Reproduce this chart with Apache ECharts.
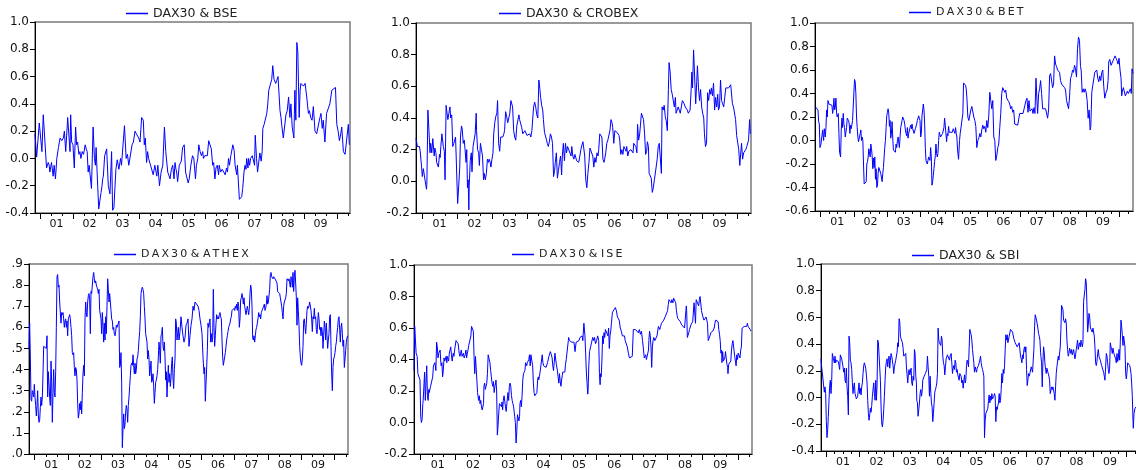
<!DOCTYPE html>
<html><head><meta charset="utf-8">
<script src="https://cdn.jsdelivr.net/npm/echarts@6/dist/echarts.min.js"></script>
<style>html,body{margin:0;padding:0;background:#fff}#c{width:1136px;height:470px}</style>
</head><body><div id="c"></div>
<script>
const tickLabels = ['01','02','03','04','05','06','07','08','09'];
const yearTicks = [2001,2002,2003,2004,2005,2006,2007,2008,2009,2010];

const bse = [[2000.85,0.18],[2000.90,0.01],[2000.93,0.02],[2000.98,0.26],[2001.02,0.25],[2001.06,0.05],[2001.10,0.32],[2001.14,0.33],[2001.20,-0.07],[2001.25,-0.03],[2001.28,-0.05],[2001.30,-0.10],[2001.33,-0.10],[2001.35,-0.03],[2001.40,-0.13],[2001.43,-0.05],[2001.47,-0.15],[2001.51,0.00],[2001.56,0.08],[2001.61,0.15],[2001.66,0.13],[2001.71,0.15],[2001.74,0.20],[2001.78,0.05],[2001.81,0.05],[2001.84,0.30],[2001.88,0.30],[2001.91,0.05],[2001.93,0.32],[2001.96,0.12],[2002.00,0.10],[2002.04,-0.07],[2002.08,0.23],[2002.11,0.10],[2002.14,0.12],[2002.18,0.03],[2002.21,0.05],[2002.24,0.00],[2002.28,0.05],[2002.32,0.03],[2002.37,0.10],[2002.40,0.07],[2002.43,0.05],[2002.46,-0.10],[2002.49,-0.05],[2002.52,-0.05],[2002.56,-0.22],[2002.61,0.23],[2002.65,0.00],[2002.68,-0.05],[2002.70,0.08],[2002.74,-0.15],[2002.78,-0.37],[2002.82,-0.36],[2002.85,-0.25],[2002.88,-0.20],[2002.90,-0.15],[2002.92,-0.13],[2002.96,0.02],[2002.99,0.02],[2003.02,0.07],[2003.07,-0.20],[2003.12,-0.26],[2003.17,0.05],[2003.20,-0.38],[2003.24,-0.36],[2003.27,-0.36],[2003.30,-0.08],[2003.32,-0.08],[2003.34,-0.01],[2003.37,-0.05],[2003.39,-0.08],[2003.44,0.00],[2003.47,-0.05],[2003.50,-0.06],[2003.56,0.24],[2003.61,0.00],[2003.65,0.03],[2003.69,-0.05],[2003.73,-0.04],[2003.79,0.10],[2003.83,0.12],[2003.88,0.20],[2003.92,0.18],[2003.95,0.17],[2003.99,0.15],[2004.03,0.12],[2004.08,0.30],[2004.13,0.28],[2004.16,0.10],[2004.19,0.15],[2004.23,-0.03],[2004.26,0.05],[2004.29,0.00],[2004.35,-0.05],[2004.39,-0.05],[2004.43,-0.12],[2004.48,-0.05],[2004.54,-0.13],[2004.57,-0.05],[2004.62,-0.20],[2004.67,-0.10],[2004.72,-0.05],[2004.77,0.23],[2004.81,0.05],[2004.87,-0.10],[2004.92,-0.10],[2004.94,-0.15],[2004.98,-0.08],[2005.02,-0.05],[2005.06,-0.15],[2005.09,-0.03],[2005.12,-0.08],[2005.14,-0.10],[2005.17,-0.17],[2005.22,-0.05],[2005.24,-0.04],[2005.28,-0.02],[2005.32,0.08],[2005.37,0.10],[2005.41,-0.10],[2005.44,-0.10],[2005.49,-0.18],[2005.52,-0.15],[2005.57,-0.05],[2005.62,0.02],[2005.66,0.00],[2005.71,-0.15],[2005.74,-0.05],[2005.78,0.00],[2005.81,0.10],[2005.85,0.05],[2005.89,0.02],[2005.93,0.05],[2005.95,0.00],[2005.99,0.02],[2006.03,0.03],[2006.07,0.02],[2006.11,0.13],[2006.15,0.13],[2006.19,0.07],[2006.23,-0.05],[2006.26,-0.03],[2006.30,-0.15],[2006.33,-0.07],[2006.35,-0.08],[2006.37,-0.05],[2006.41,-0.12],[2006.43,-0.05],[2006.47,-0.10],[2006.52,-0.08],[2006.57,-0.08],[2006.61,-0.12],[2006.65,-0.07],[2006.68,-0.10],[2006.71,0.00],[2006.74,-0.05],[2006.78,0.02],[2006.82,0.07],[2006.84,0.10],[2006.88,0.06],[2006.91,-0.05],[2006.96,-0.12],[2006.98,-0.05],[2007.01,-0.05],[2007.04,-0.30],[2007.11,-0.28],[2007.14,-0.22],[2007.18,-0.10],[2007.21,-0.05],[2007.24,-0.08],[2007.26,0.00],[2007.30,-0.07],[2007.32,0.00],[2007.35,-0.05],[2007.38,0.00],[2007.43,0.02],[2007.46,0.03],[2007.50,-0.05],[2007.52,0.17],[2007.56,0.00],[2007.59,-0.10],[2007.63,-0.02],[2007.66,0.04],[2007.70,-0.02],[2007.73,0.05],[2007.75,0.22],[2007.79,0.25],[2007.82,0.25],[2007.87,0.33],[2007.90,0.40],[2007.93,0.50],[2007.97,0.50],[2008.02,0.58],[2008.05,0.68],[2008.09,0.58],[2008.14,0.55],[2008.17,0.57],[2008.21,0.60],[2008.27,0.35],[2008.30,0.30],[2008.32,0.25],[2008.37,0.15],[2008.41,0.15],[2008.45,0.32],[2008.49,0.35],[2008.53,0.45],[2008.57,0.30],[2008.60,0.40],[2008.64,0.23],[2008.69,0.15],[2008.72,0.50],[2008.75,0.28],[2008.78,0.85],[2008.81,0.78],[2008.85,0.30],[2008.88,0.50],[2008.90,0.55],[2008.98,0.53],[2009.03,0.55],[2009.08,0.45],[2009.13,0.33],[2009.16,0.35],[2009.20,0.30],[2009.24,0.28],[2009.28,0.38],[2009.33,0.20],[2009.38,0.18],[2009.43,0.18],[2009.48,0.30],[2009.51,0.33],[2009.55,0.22],[2009.58,0.28],[2009.63,0.12],[2009.68,0.33],[2009.73,0.33],[2009.78,0.40],[2009.84,0.50],[2009.89,0.50],[2009.95,0.52],[2009.99,0.25],[2010.03,0.20],[2010.07,0.13],[2010.11,0.18],[2010.14,0.23],[2010.19,0.05],[2010.24,0.03],[2010.29,0.03],[2010.34,0.25],[2010.37,0.10]];

const crobex = [[2000.83,0.27],[2000.87,0.22],[2000.93,0.22],[2000.95,0.19],[2000.99,0.09],[2001.01,0.03],[2001.04,0.08],[2001.07,0.07],[2001.10,-0.01],[2001.13,-0.05],[2001.14,-0.02],[2001.17,0.45],[2001.20,0.32],[2001.23,0.18],[2001.25,0.24],[2001.28,0.18],[2001.31,0.27],[2001.33,0.26],[2001.35,0.16],[2001.37,0.21],[2001.40,0.18],[2001.42,0.12],[2001.45,0.12],[2001.47,0.09],[2001.50,0.17],[2001.52,0.15],[2001.54,0.22],[2001.57,0.30],[2001.59,0.31],[2001.61,0.22],[2001.64,0.19],[2001.66,0.01],[2001.69,0.48],[2001.72,0.47],[2001.74,0.39],[2001.77,0.43],[2001.80,0.47],[2001.82,0.40],[2001.85,0.42],[2001.88,0.22],[2001.91,0.24],[2001.94,0.24],[2001.96,0.28],[2001.99,0.29],[2002.02,-0.14],[2002.05,-0.03],[2002.08,0.09],[2002.10,0.28],[2002.13,0.35],[2002.15,0.33],[2002.18,0.24],[2002.21,0.26],[2002.24,0.26],[2002.26,0.12],[2002.28,0.20],[2002.30,-0.04],[2002.32,0.01],[2002.34,-0.18],[2002.35,-0.03],[2002.38,0.13],[2002.41,0.18],[2002.43,0.06],[2002.46,0.22],[2002.49,0.21],[2002.52,0.30],[2002.55,0.43],[2002.56,0.32],[2002.59,0.20],[2002.62,0.18],[2002.64,0.10],[2002.67,0.24],[2002.70,0.25],[2002.73,0.16],[2002.76,0.01],[2002.78,0.05],[2002.81,0.01],[2002.84,0.05],[2002.87,0.14],[2002.90,0.12],[2002.92,0.14],[2002.95,0.12],[2002.97,0.09],[2003.00,0.14],[2003.03,0.18],[2003.05,0.30],[2003.08,0.37],[2003.11,0.41],[2003.14,0.43],[2003.16,0.51],[2003.19,0.24],[2003.22,0.19],[2003.25,0.28],[2003.28,0.27],[2003.31,0.28],[2003.34,0.30],[2003.36,0.32],[2003.39,0.44],[2003.42,0.41],[2003.45,0.37],[2003.48,0.37],[2003.51,0.43],[2003.54,0.51],[2003.56,0.52],[2003.59,0.47],[2003.62,0.32],[2003.65,0.28],[2003.68,0.26],[2003.71,0.35],[2003.74,0.34],[2003.77,0.42],[2003.79,0.39],[2003.82,0.38],[2003.85,0.34],[2003.88,0.30],[2003.91,0.29],[2003.94,0.32],[2003.97,0.31],[2004.00,0.29],[2004.02,0.29],[2004.05,0.28],[2004.08,0.30],[2004.11,0.28],[2004.14,0.32],[2004.17,0.32],[2004.19,0.47],[2004.22,0.50],[2004.25,0.47],[2004.28,0.42],[2004.31,0.40],[2004.34,0.64],[2004.37,0.58],[2004.39,0.53],[2004.42,0.48],[2004.45,0.45],[2004.47,0.39],[2004.50,0.31],[2004.53,0.30],[2004.56,0.26],[2004.58,0.24],[2004.61,0.22],[2004.64,0.25],[2004.67,0.30],[2004.70,0.28],[2004.73,0.24],[2004.76,0.03],[2004.79,0.07],[2004.81,0.12],[2004.84,0.18],[2004.87,0.02],[2004.90,0.07],[2004.93,0.12],[2004.96,0.16],[2004.99,0.04],[2005.01,0.16],[2005.04,0.24],[2005.07,0.13],[2005.10,0.24],[2005.13,0.18],[2005.16,0.22],[2005.19,0.23],[2005.21,0.21],[2005.26,0.16],[2005.28,0.22],[2005.31,0.16],[2005.34,0.14],[2005.37,0.17],[2005.40,0.16],[2005.42,0.13],[2005.45,0.14],[2005.48,0.12],[2005.51,0.13],[2005.54,0.20],[2005.57,0.23],[2005.60,0.25],[2005.62,0.25],[2005.65,0.16],[2005.68,0.01],[2005.71,-0.04],[2005.74,0.05],[2005.77,0.12],[2005.80,0.21],[2005.82,0.22],[2005.85,0.22],[2005.88,0.16],[2005.91,0.09],[2005.94,0.15],[2005.97,0.12],[2006.00,0.18],[2006.03,0.16],[2006.05,0.20],[2006.08,0.30],[2006.11,0.29],[2006.14,0.28],[2006.17,0.14],[2006.20,0.12],[2006.22,0.14],[2006.25,0.18],[2006.28,0.24],[2006.31,0.26],[2006.34,0.25],[2006.37,0.32],[2006.40,0.39],[2006.43,0.37],[2006.45,0.34],[2006.48,0.24],[2006.51,0.32],[2006.54,0.33],[2006.57,0.31],[2006.60,0.32],[2006.63,0.29],[2006.65,0.26],[2006.68,0.17],[2006.71,0.20],[2006.74,0.17],[2006.77,0.22],[2006.80,0.23],[2006.83,0.19],[2006.85,0.22],[2006.88,0.16],[2006.91,0.19],[2006.94,0.18],[2006.97,0.20],[2007.00,0.21],[2007.03,0.18],[2007.05,0.24],[2007.08,0.24],[2007.11,0.22],[2007.14,0.18],[2007.16,0.36],[2007.19,0.26],[2007.22,0.30],[2007.24,0.35],[2007.27,0.43],[2007.30,0.42],[2007.33,0.39],[2007.36,0.30],[2007.39,0.17],[2007.42,0.19],[2007.44,0.25],[2007.47,0.22],[2007.49,0.05],[2007.52,0.05],[2007.55,0.02],[2007.58,-0.07],[2007.61,-0.04],[2007.64,0.01],[2007.66,0.04],[2007.69,0.03],[2007.72,0.14],[2007.75,0.22],[2007.78,0.24],[2007.81,0.23],[2007.84,0.05],[2007.86,0.47],[2007.89,0.45],[2007.92,0.48],[2007.95,0.41],[2007.98,0.38],[2008.01,0.32],[2008.04,0.58],[2008.06,0.75],[2008.09,0.69],[2008.12,0.58],[2008.15,0.55],[2008.18,0.56],[2008.21,0.47],[2008.24,0.53],[2008.26,0.43],[2008.29,0.44],[2008.32,0.47],[2008.35,0.45],[2008.38,0.43],[2008.41,0.47],[2008.44,0.51],[2008.46,0.50],[2008.49,0.49],[2008.52,0.47],[2008.55,0.48],[2008.58,0.45],[2008.61,0.43],[2008.64,0.42],[2008.66,0.45],[2008.69,0.58],[2008.71,0.69],[2008.73,0.59],[2008.76,0.83],[2008.79,0.84],[2008.82,0.49],[2008.85,0.63],[2008.87,0.73],[2008.90,0.59],[2008.93,0.51],[2008.96,0.58],[2008.99,0.47],[2009.02,0.43],[2009.05,0.40],[2009.07,0.30],[2009.10,0.22],[2009.13,0.24],[2009.16,0.56],[2009.19,0.51],[2009.22,0.58],[2009.25,0.55],[2009.27,0.59],[2009.30,0.54],[2009.33,0.62],[2009.36,0.45],[2009.39,0.53],[2009.42,0.47],[2009.45,0.55],[2009.47,0.45],[2009.50,0.47],[2009.53,0.64],[2009.56,0.51],[2009.59,0.49],[2009.62,0.47],[2009.65,0.53],[2009.68,0.59],[2009.70,0.58],[2009.73,0.59],[2009.76,0.59],[2009.79,0.58],[2009.82,0.61],[2009.85,0.60],[2009.87,0.49],[2009.90,0.47],[2009.93,0.48],[2009.96,0.39],[2009.99,0.29],[2010.02,0.30],[2010.05,0.20],[2010.08,0.10],[2010.10,0.16],[2010.13,0.24],[2010.16,0.14],[2010.19,0.18],[2010.22,0.19],[2010.25,0.20],[2010.28,0.22],[2010.30,0.21],[2010.33,0.26],[2010.36,0.39],[2010.38,0.30]];

const bet = [[2000.83,0.29],[2000.86,0.29],[2000.89,0.28],[2000.92,0.26],[2000.94,0.16],[2000.96,0.14],[2000.98,-0.06],[2001.01,-0.03],[2001.03,-0.04],[2001.06,0.09],[2001.09,0.00],[2001.11,0.10],[2001.14,0.03],[2001.16,0.11],[2001.18,0.26],[2001.20,0.20],[2001.22,0.34],[2001.25,0.31],[2001.28,0.31],[2001.31,0.31],[2001.34,0.30],[2001.36,0.23],[2001.38,0.27],[2001.40,0.36],[2001.42,0.26],[2001.44,0.28],[2001.46,0.36],[2001.48,0.23],[2001.50,0.20],[2001.53,0.23],[2001.55,0.06],[2001.57,-0.10],[2001.60,-0.14],[2001.62,0.09],[2001.64,0.19],[2001.66,0.11],[2001.68,0.23],[2001.70,0.14],[2001.72,0.11],[2001.74,0.03],[2001.76,0.04],[2001.78,0.11],[2001.80,0.19],[2001.82,0.20],[2001.84,0.17],[2001.86,0.14],[2001.88,0.06],[2001.90,0.13],[2001.92,0.10],[2001.94,0.09],[2001.96,0.17],[2001.98,0.16],[2002.00,0.17],[2002.02,0.52],[2002.04,0.50],[2002.06,0.40],[2002.08,0.20],[2002.10,0.11],[2002.12,0.03],[2002.14,-0.01],[2002.16,0.00],[2002.19,0.06],[2002.21,0.09],[2002.23,0.00],[2002.25,0.03],[2002.27,0.00],[2002.29,-0.20],[2002.31,-0.37],[2002.34,-0.37],[2002.37,-0.35],[2002.39,-0.20],[2002.41,-0.18],[2002.43,-0.14],[2002.45,-0.07],[2002.47,-0.06],[2002.49,-0.14],[2002.51,-0.03],[2002.53,-0.07],[2002.55,-0.13],[2002.57,-0.24],[2002.59,-0.15],[2002.61,-0.23],[2002.63,-0.14],[2002.65,-0.33],[2002.67,-0.24],[2002.69,-0.40],[2002.71,-0.38],[2002.73,-0.28],[2002.75,-0.23],[2002.77,-0.23],[2002.79,-0.24],[2002.81,-0.28],[2002.83,-0.28],[2002.85,-0.35],[2002.87,-0.28],[2002.89,-0.23],[2002.91,-0.14],[2002.93,-0.06],[2002.95,0.00],[2002.97,0.11],[2002.99,0.21],[2003.01,0.24],[2003.03,0.27],[2003.05,0.23],[2003.07,0.12],[2003.09,0.17],[2003.11,0.02],[2003.13,0.06],[2003.15,0.16],[2003.17,0.02],[2003.19,-0.08],[2003.21,-0.08],[2003.23,-0.07],[2003.25,-0.10],[2003.27,-0.03],[2003.29,-0.06],[2003.31,0.00],[2003.33,0.03],[2003.35,0.03],[2003.37,-0.06],[2003.39,0.03],[2003.41,0.11],[2003.43,0.14],[2003.45,0.17],[2003.47,0.20],[2003.49,0.19],[2003.51,0.17],[2003.53,0.14],[2003.55,0.09],[2003.57,0.06],[2003.59,0.04],[2003.61,0.11],[2003.63,0.02],[2003.65,0.06],[2003.67,0.07],[2003.69,0.11],[2003.71,0.13],[2003.73,0.10],[2003.75,0.14],[2003.77,0.10],[2003.79,0.09],[2003.81,0.06],[2003.83,0.08],[2003.85,0.10],[2003.87,0.11],[2003.89,0.14],[2003.91,0.17],[2003.93,0.16],[2003.95,0.21],[2003.97,0.19],[2003.99,0.17],[2004.01,0.03],[2004.03,0.06],[2004.05,0.21],[2004.07,0.26],[2004.09,0.31],[2004.11,0.26],[2004.13,0.14],[2004.15,-0.06],[2004.17,-0.17],[2004.19,-0.18],[2004.21,-0.20],[2004.23,-0.17],[2004.25,-0.14],[2004.27,-0.15],[2004.29,-0.17],[2004.31,-0.06],[2004.33,-0.14],[2004.35,-0.38],[2004.37,-0.35],[2004.39,-0.30],[2004.41,-0.24],[2004.43,-0.18],[2004.45,-0.13],[2004.47,-0.03],[2004.49,-0.11],[2004.51,-0.14],[2004.53,-0.11],[2004.55,0.00],[2004.57,0.07],[2004.59,0.06],[2004.61,0.03],[2004.63,0.04],[2004.65,0.03],[2004.67,0.06],[2004.69,0.07],[2004.71,0.11],[2004.73,0.19],[2004.75,0.13],[2004.77,0.06],[2004.79,-0.01],[2004.81,0.06],[2004.83,0.04],[2004.85,0.12],[2004.87,0.07],[2004.90,0.06],[2004.93,0.06],[2004.96,0.07],[2004.99,0.10],[2005.02,0.11],[2005.04,0.06],[2005.06,0.11],[2005.08,0.06],[2005.10,0.03],[2005.12,-0.08],[2005.15,-0.16],[2005.18,0.00],[2005.20,0.06],[2005.23,0.07],[2005.26,0.07],[2005.28,0.23],[2005.30,0.49],[2005.33,0.50],[2005.36,0.47],[2005.38,0.44],[2005.40,0.37],[2005.43,0.20],[2005.46,0.17],[2005.49,0.16],[2005.52,0.26],[2005.55,0.29],[2005.58,0.28],[2005.61,0.20],[2005.64,0.17],[2005.67,0.12],[2005.70,-0.06],[2005.73,0.00],[2005.76,0.02],[2005.79,0.06],[2005.82,0.03],[2005.85,0.09],[2005.88,0.13],[2005.91,0.10],[2005.94,0.12],[2005.97,0.07],[2006.00,0.17],[2006.03,0.11],[2006.06,0.21],[2006.09,0.41],[2006.12,0.34],[2006.15,0.27],[2006.18,0.34],[2006.21,0.03],[2006.24,0.00],[2006.27,-0.17],[2006.30,-0.13],[2006.33,-0.06],[2006.36,-0.03],[2006.39,0.11],[2006.42,0.23],[2006.45,0.40],[2006.48,0.45],[2006.51,0.44],[2006.54,0.41],[2006.57,0.43],[2006.60,0.36],[2006.63,0.37],[2006.66,0.33],[2006.69,0.31],[2006.72,0.27],[2006.75,0.29],[2006.78,0.24],[2006.81,0.26],[2006.84,0.14],[2006.87,0.13],[2006.90,0.14],[2006.93,0.13],[2006.96,0.14],[2006.99,0.23],[2007.02,0.23],[2007.05,0.24],[2007.09,0.23],[2007.12,0.24],[2007.15,0.23],[2007.18,0.34],[2007.21,0.36],[2007.24,0.24],[2007.27,0.34],[2007.30,0.25],[2007.33,0.25],[2007.36,0.27],[2007.39,0.23],[2007.42,0.28],[2007.45,0.23],[2007.48,0.53],[2007.51,0.34],[2007.53,0.23],[2007.56,0.40],[2007.59,0.44],[2007.62,0.51],[2007.65,0.40],[2007.68,0.27],[2007.71,0.26],[2007.74,0.28],[2007.77,0.27],[2007.80,0.28],[2007.83,0.19],[2007.86,0.26],[2007.89,0.55],[2007.92,0.57],[2007.95,0.58],[2007.98,0.45],[2008.01,0.48],[2008.04,0.72],[2008.07,0.65],[2008.10,0.63],[2008.13,0.60],[2008.16,0.61],[2008.19,0.58],[2008.22,0.51],[2008.25,0.48],[2008.28,0.47],[2008.31,0.47],[2008.34,0.45],[2008.37,0.43],[2008.40,0.34],[2008.43,0.33],[2008.46,0.27],[2008.49,0.37],[2008.52,0.53],[2008.55,0.55],[2008.58,0.60],[2008.61,0.58],[2008.64,0.64],[2008.67,0.61],[2008.70,0.54],[2008.73,0.78],[2008.76,0.88],[2008.79,0.85],[2008.82,0.63],[2008.84,0.60],[2008.87,0.41],[2008.90,0.44],[2008.93,0.41],[2008.96,0.44],[2008.99,0.41],[2009.02,0.34],[2009.05,0.19],[2009.08,0.26],[2009.11,0.09],[2009.13,0.12],[2009.16,0.41],[2009.19,0.47],[2009.22,0.48],[2009.25,0.58],[2009.28,0.57],[2009.31,0.60],[2009.34,0.53],[2009.37,0.50],[2009.40,0.55],[2009.43,0.51],[2009.46,0.58],[2009.49,0.60],[2009.52,0.46],[2009.55,0.36],[2009.59,0.41],[2009.62,0.43],[2009.65,0.51],[2009.67,0.67],[2009.70,0.69],[2009.74,0.64],[2009.77,0.63],[2009.80,0.63],[2009.83,0.70],[2009.86,0.72],[2009.89,0.70],[2009.92,0.68],[2009.95,0.65],[2009.98,0.70],[2010.01,0.60],[2010.04,0.53],[2010.06,0.38],[2010.08,0.42],[2010.11,0.45],[2010.14,0.45],[2010.17,0.38],[2010.20,0.39],[2010.23,0.42],[2010.26,0.40],[2010.29,0.41],[2010.32,0.44],[2010.35,0.40],[2010.37,0.61],[2010.40,0.57]];

const athex = [[2000.83,0.50],[2000.85,0.62],[2000.87,0.46],[2000.89,0.26],[2000.91,0.25],[2000.93,0.30],[2000.95,0.29],[2000.97,0.27],[2000.99,0.33],[2001.01,0.27],[2001.03,0.23],[2001.05,0.18],[2001.07,0.23],[2001.09,0.30],[2001.11,0.18],[2001.13,0.15],[2001.15,0.16],[2001.17,0.22],[2001.19,0.27],[2001.21,0.23],[2001.23,0.27],[2001.25,0.38],[2001.27,0.51],[2001.29,0.51],[2001.31,0.51],[2001.33,0.51],[2001.35,0.50],[2001.37,0.56],[2001.39,0.27],[2001.41,0.39],[2001.43,0.39],[2001.45,0.27],[2001.47,0.23],[2001.49,0.44],[2001.51,0.34],[2001.53,0.15],[2001.55,0.29],[2001.57,0.40],[2001.59,0.29],[2001.61,0.27],[2001.63,0.39],[2001.65,0.60],[2001.67,0.84],[2001.69,0.85],[2001.71,0.79],[2001.73,0.80],[2001.75,0.72],[2001.77,0.72],[2001.79,0.62],[2001.81,0.67],[2001.83,0.66],[2001.85,0.67],[2001.87,0.64],[2001.89,0.60],[2001.91,0.63],[2001.93,0.64],[2001.95,0.60],[2001.97,0.63],[2001.99,0.56],[2002.01,0.64],[2002.03,0.65],[2002.05,0.66],[2002.07,0.64],[2002.09,0.60],[2002.11,0.56],[2002.13,0.48],[2002.15,0.47],[2002.17,0.48],[2002.19,0.41],[2002.21,0.37],[2002.23,0.41],[2002.25,0.40],[2002.27,0.35],[2002.29,0.24],[2002.31,0.17],[2002.33,0.19],[2002.35,0.24],[2002.37,0.21],[2002.39,0.25],[2002.41,0.19],[2002.43,0.29],[2002.45,0.38],[2002.47,0.42],[2002.49,0.37],[2002.51,0.64],[2002.53,0.72],[2002.55,0.67],[2002.57,0.65],[2002.59,0.72],[2002.61,0.75],[2002.63,0.76],[2002.65,0.73],[2002.67,0.57],[2002.69,0.77],[2002.71,0.76],[2002.73,0.76],[2002.75,0.84],[2002.77,0.86],[2002.79,0.83],[2002.81,0.81],[2002.83,0.82],[2002.85,0.80],[2002.87,0.79],[2002.89,0.78],[2002.91,0.76],[2002.93,0.78],[2002.95,0.68],[2002.97,0.68],[2002.99,0.64],[2003.01,0.57],[2003.03,0.67],[2003.05,0.61],[2003.07,0.53],[2003.09,0.62],[2003.11,0.54],[2003.13,0.65],[2003.15,0.57],[2003.17,0.70],[2003.19,0.83],[2003.21,0.78],[2003.23,0.72],[2003.25,0.76],[2003.27,0.72],[2003.29,0.68],[2003.31,0.64],[2003.33,0.63],[2003.35,0.59],[2003.37,0.60],[2003.39,0.57],[2003.41,0.56],[2003.43,0.58],[2003.45,0.61],[2003.47,0.60],[2003.49,0.60],[2003.51,0.60],[2003.53,0.63],[2003.55,0.41],[2003.57,0.42],[2003.59,0.48],[2003.61,0.34],[2003.63,0.03],[2003.65,0.12],[2003.67,0.19],[2003.69,0.12],[2003.71,0.14],[2003.73,0.20],[2003.75,0.23],[2003.77,0.21],[2003.79,0.15],[2003.81,0.23],[2003.83,0.27],[2003.85,0.32],[2003.87,0.37],[2003.89,0.42],[2003.91,0.43],[2003.93,0.42],[2003.95,0.47],[2003.97,0.42],[2003.99,0.38],[2004.01,0.43],[2004.03,0.38],[2004.05,0.40],[2004.07,0.45],[2004.09,0.46],[2004.11,0.49],[2004.13,0.54],[2004.15,0.58],[2004.17,0.65],[2004.19,0.76],[2004.21,0.78],[2004.23,0.79],[2004.25,0.78],[2004.27,0.76],[2004.29,0.70],[2004.31,0.64],[2004.33,0.57],[2004.35,0.57],[2004.37,0.53],[2004.39,0.45],[2004.41,0.49],[2004.43,0.45],[2004.45,0.37],[2004.47,0.40],[2004.49,0.44],[2004.51,0.34],[2004.53,0.35],[2004.55,0.38],[2004.57,0.32],[2004.59,0.24],[2004.61,0.29],[2004.63,0.34],[2004.65,0.35],[2004.67,0.37],[2004.69,0.40],[2004.71,0.46],[2004.73,0.53],[2004.75,0.49],[2004.77,0.43],[2004.79,0.56],[2004.81,0.57],[2004.83,0.60],[2004.85,0.51],[2004.87,0.49],[2004.89,0.53],[2004.91,0.46],[2004.93,0.35],[2004.95,0.39],[2004.97,0.27],[2004.99,0.35],[2005.01,0.42],[2005.03,0.34],[2005.05,0.38],[2005.07,0.32],[2005.09,0.36],[2005.11,0.43],[2005.13,0.46],[2005.15,0.36],[2005.17,0.31],[2005.19,0.40],[2005.21,0.45],[2005.23,0.64],[2005.25,0.62],[2005.27,0.54],[2005.29,0.57],[2005.31,0.60],[2005.33,0.54],[2005.36,0.58],[2005.39,0.65],[2005.42,0.60],[2005.45,0.56],[2005.48,0.53],[2005.51,0.55],[2005.54,0.61],[2005.57,0.62],[2005.60,0.64],[2005.63,0.51],[2005.66,0.56],[2005.69,0.61],[2005.72,0.64],[2005.75,0.70],[2005.78,0.68],[2005.81,0.72],[2005.84,0.72],[2005.87,0.72],[2005.90,0.70],[2005.93,0.68],[2005.96,0.64],[2005.99,0.61],[2006.02,0.57],[2006.05,0.46],[2006.08,0.38],[2006.10,0.41],[2006.12,0.25],[2006.14,0.33],[2006.16,0.33],[2006.18,0.49],[2006.20,0.62],[2006.22,0.60],[2006.24,0.62],[2006.26,0.64],[2006.28,0.53],[2006.30,0.57],[2006.32,0.53],[2006.34,0.55],[2006.36,0.78],[2006.38,0.60],[2006.40,0.51],[2006.42,0.56],[2006.44,0.62],[2006.46,0.66],[2006.48,0.64],[2006.50,0.65],[2006.52,0.64],[2006.54,0.66],[2006.56,0.67],[2006.58,0.65],[2006.60,0.64],[2006.62,0.54],[2006.64,0.46],[2006.66,0.42],[2006.68,0.42],[2006.70,0.46],[2006.72,0.48],[2006.74,0.51],[2006.76,0.54],[2006.78,0.56],[2006.80,0.58],[2006.82,0.60],[2006.84,0.61],[2006.86,0.62],[2006.88,0.64],[2006.90,0.65],[2006.92,0.68],[2006.94,0.68],[2006.96,0.68],[2006.98,0.69],[2007.00,0.68],[2007.02,0.70],[2007.04,0.69],[2007.06,0.71],[2007.08,0.68],[2007.10,0.72],[2007.12,0.70],[2007.14,0.60],[2007.16,0.64],[2007.18,0.73],[2007.20,0.74],[2007.22,0.76],[2007.24,0.74],[2007.26,0.71],[2007.28,0.74],[2007.30,0.70],[2007.32,0.70],[2007.34,0.66],[2007.36,0.68],[2007.38,0.70],[2007.40,0.68],[2007.42,0.66],[2007.44,0.69],[2007.46,0.76],[2007.48,0.80],[2007.50,0.78],[2007.52,0.70],[2007.54,0.55],[2007.56,0.54],[2007.58,0.56],[2007.60,0.53],[2007.62,0.56],[2007.64,0.59],[2007.66,0.60],[2007.68,0.62],[2007.70,0.64],[2007.72,0.67],[2007.74,0.65],[2007.76,0.66],[2007.78,0.64],[2007.80,0.67],[2007.82,0.68],[2007.84,0.68],[2007.87,0.70],[2007.89,0.71],[2007.91,0.68],[2007.93,0.69],[2007.95,0.71],[2007.97,0.75],[2007.99,0.71],[2008.01,0.72],[2008.03,0.72],[2008.05,0.78],[2008.07,0.85],[2008.09,0.86],[2008.11,0.84],[2008.13,0.84],[2008.15,0.83],[2008.17,0.84],[2008.19,0.84],[2008.21,0.83],[2008.23,0.83],[2008.25,0.83],[2008.27,0.81],[2008.29,0.77],[2008.31,0.77],[2008.33,0.77],[2008.35,0.76],[2008.37,0.74],[2008.39,0.72],[2008.41,0.70],[2008.43,0.67],[2008.45,0.64],[2008.47,0.70],[2008.49,0.72],[2008.51,0.72],[2008.53,0.74],[2008.55,0.76],[2008.57,0.83],[2008.59,0.83],[2008.61,0.82],[2008.63,0.83],[2008.65,0.81],[2008.67,0.79],[2008.69,0.84],[2008.71,0.83],[2008.73,0.79],[2008.75,0.86],[2008.77,0.77],[2008.79,0.84],[2008.81,0.87],[2008.83,0.81],[2008.85,0.74],[2008.87,0.61],[2008.89,0.74],[2008.91,0.68],[2008.93,0.61],[2008.95,0.51],[2008.97,0.46],[2008.99,0.43],[2009.01,0.42],[2009.03,0.45],[2009.05,0.51],[2009.07,0.63],[2009.09,0.64],[2009.11,0.60],[2009.13,0.57],[2009.15,0.62],[2009.17,0.68],[2009.19,0.70],[2009.21,0.69],[2009.23,0.70],[2009.25,0.72],[2009.27,0.72],[2009.29,0.68],[2009.31,0.64],[2009.33,0.58],[2009.35,0.65],[2009.37,0.64],[2009.39,0.69],[2009.41,0.64],[2009.43,0.65],[2009.45,0.59],[2009.47,0.57],[2009.49,0.62],[2009.51,0.67],[2009.53,0.64],[2009.55,0.59],[2009.57,0.60],[2009.59,0.56],[2009.61,0.60],[2009.63,0.58],[2009.65,0.50],[2009.67,0.56],[2009.69,0.63],[2009.71,0.60],[2009.73,0.54],[2009.75,0.62],[2009.77,0.56],[2009.79,0.50],[2009.81,0.54],[2009.83,0.57],[2009.85,0.65],[2009.87,0.66],[2009.89,0.51],[2009.91,0.38],[2009.93,0.30],[2009.95,0.41],[2009.97,0.45],[2009.99,0.46],[2010.01,0.48],[2010.03,0.51],[2010.05,0.53],[2010.07,0.57],[2010.09,0.60],[2010.11,0.64],[2010.13,0.65],[2010.15,0.59],[2010.17,0.53],[2010.19,0.60],[2010.21,0.62],[2010.23,0.57],[2010.25,0.51],[2010.27,0.54],[2010.29,0.41],[2010.31,0.45],[2010.33,0.49],[2010.35,0.53],[2010.37,0.55],[2010.39,0.56]];

const ise = [[2000.83,0.33],[2000.85,0.61],[2000.87,0.62],[2000.89,0.44],[2000.91,0.43],[2000.92,0.42],[2000.94,0.31],[2000.96,0.30],[2000.98,0.31],[2001.00,0.27],[2001.02,0.04],[2001.04,0.00],[2001.06,0.02],[2001.08,0.12],[2001.09,0.14],[2001.11,0.13],[2001.13,0.32],[2001.15,0.14],[2001.17,0.25],[2001.19,0.36],[2001.21,0.17],[2001.23,0.14],[2001.25,0.21],[2001.26,0.19],[2001.28,0.20],[2001.30,0.23],[2001.32,0.22],[2001.34,0.23],[2001.36,0.29],[2001.38,0.36],[2001.40,0.37],[2001.42,0.38],[2001.43,0.39],[2001.45,0.33],[2001.47,0.51],[2001.49,0.48],[2001.51,0.41],[2001.53,0.44],[2001.55,0.44],[2001.57,0.46],[2001.59,0.38],[2001.60,0.36],[2001.62,0.38],[2001.64,0.29],[2001.66,0.33],[2001.68,0.41],[2001.70,0.39],[2001.72,0.40],[2001.74,0.42],[2001.76,0.38],[2001.77,0.42],[2001.79,0.43],[2001.81,0.39],[2001.83,0.44],[2001.85,0.46],[2001.87,0.48],[2001.89,0.43],[2001.91,0.39],[2001.93,0.40],[2001.94,0.44],[2001.96,0.42],[2001.98,0.46],[2002.00,0.47],[2002.02,0.52],[2002.04,0.52],[2002.06,0.51],[2002.08,0.50],[2002.10,0.49],[2002.11,0.44],[2002.13,0.42],[2002.15,0.44],[2002.17,0.46],[2002.19,0.42],[2002.21,0.43],[2002.23,0.44],[2002.25,0.41],[2002.27,0.42],[2002.28,0.43],[2002.30,0.46],[2002.32,0.41],[2002.34,0.44],[2002.36,0.46],[2002.38,0.49],[2002.40,0.48],[2002.42,0.50],[2002.44,0.55],[2002.46,0.61],[2002.47,0.62],[2002.49,0.61],[2002.51,0.58],[2002.53,0.42],[2002.55,0.31],[2002.57,0.42],[2002.59,0.41],[2002.61,0.27],[2002.63,0.19],[2002.64,0.17],[2002.66,0.14],[2002.68,0.17],[2002.70,0.12],[2002.72,0.14],[2002.74,0.10],[2002.76,0.08],[2002.78,0.08],[2002.80,0.12],[2002.81,0.23],[2002.83,0.25],[2002.85,0.21],[2002.87,0.23],[2002.89,0.25],[2002.91,0.31],[2002.93,0.43],[2002.95,0.44],[2002.97,0.42],[2002.98,0.38],[2003.00,0.33],[2003.02,0.29],[2003.04,0.25],[2003.06,0.23],[2003.08,0.26],[2003.10,0.19],[2003.12,0.23],[2003.14,0.25],[2003.15,0.27],[2003.17,0.20],[2003.19,-0.08],[2003.21,-0.02],[2003.23,0.06],[2003.25,0.12],[2003.27,0.13],[2003.29,0.12],[2003.31,0.10],[2003.32,0.13],[2003.34,0.08],[2003.36,0.14],[2003.38,0.17],[2003.40,0.17],[2003.42,0.10],[2003.44,0.07],[2003.46,0.12],[2003.48,0.17],[2003.49,0.19],[2003.51,0.14],[2003.53,0.23],[2003.55,0.25],[2003.57,0.23],[2003.59,0.17],[2003.61,0.14],[2003.63,0.12],[2003.65,0.10],[2003.66,0.10],[2003.68,0.04],[2003.70,0.00],[2003.72,-0.13],[2003.74,-0.06],[2003.76,0.05],[2003.78,0.06],[2003.80,0.01],[2003.82,0.04],[2003.83,0.12],[2003.85,0.14],[2003.87,0.10],[2003.89,0.17],[2003.91,0.27],[2003.93,0.31],[2003.95,0.30],[2003.97,0.33],[2003.99,0.38],[2004.01,0.37],[2004.02,0.36],[2004.04,0.38],[2004.06,0.37],[2004.08,0.40],[2004.10,0.43],[2004.12,0.36],[2004.14,0.43],[2004.16,0.42],[2004.18,0.42],[2004.19,0.36],[2004.21,0.25],[2004.23,0.19],[2004.25,0.17],[2004.27,0.16],[2004.29,0.17],[2004.31,0.19],[2004.33,0.27],[2004.35,0.29],[2004.36,0.27],[2004.38,0.29],[2004.40,0.32],[2004.42,0.33],[2004.44,0.33],[2004.46,0.43],[2004.48,0.38],[2004.50,0.36],[2004.52,0.36],[2004.53,0.36],[2004.55,0.37],[2004.57,0.35],[2004.59,0.36],[2004.61,0.38],[2004.63,0.38],[2004.65,0.42],[2004.67,0.43],[2004.69,0.45],[2004.70,0.44],[2004.72,0.43],[2004.74,0.41],[2004.76,0.36],[2004.78,0.33],[2004.80,0.38],[2004.82,0.44],[2004.84,0.44],[2004.86,0.37],[2004.87,0.36],[2004.89,0.33],[2004.91,0.29],[2004.93,0.25],[2004.95,0.31],[2004.97,0.26],[2004.99,0.23],[2005.01,0.27],[2005.03,0.30],[2005.04,0.32],[2005.06,0.33],[2005.08,0.31],[2005.10,0.32],[2005.12,0.37],[2005.14,0.40],[2005.16,0.40],[2005.18,0.41],[2005.20,0.52],[2005.21,0.54],[2005.23,0.52],[2005.25,0.52],[2005.27,0.53],[2005.30,0.51],[2005.33,0.50],[2005.36,0.51],[2005.39,0.45],[2005.42,0.51],[2005.44,0.52],[2005.47,0.52],[2005.50,0.52],[2005.53,0.54],[2005.56,0.53],[2005.59,0.55],[2005.61,0.52],[2005.64,0.63],[2005.67,0.55],[2005.69,0.44],[2005.71,0.32],[2005.73,0.25],[2005.75,0.18],[2005.76,0.21],[2005.78,0.36],[2005.80,0.45],[2005.83,0.48],[2005.86,0.51],[2005.89,0.54],[2005.92,0.52],[2005.94,0.54],[2005.97,0.50],[2006.00,0.52],[2006.03,0.55],[2006.06,0.52],[2006.08,0.31],[2006.10,0.24],[2006.11,0.31],[2006.13,0.29],[2006.15,0.39],[2006.17,0.55],[2006.19,0.50],[2006.21,0.57],[2006.23,0.54],[2006.25,0.59],[2006.27,0.60],[2006.28,0.60],[2006.30,0.59],[2006.32,0.55],[2006.34,0.60],[2006.36,0.47],[2006.38,0.55],[2006.40,0.58],[2006.42,0.63],[2006.44,0.68],[2006.45,0.70],[2006.47,0.71],[2006.50,0.70],[2006.53,0.73],[2006.56,0.71],[2006.59,0.67],[2006.62,0.67],[2006.64,0.65],[2006.67,0.60],[2006.70,0.58],[2006.73,0.55],[2006.76,0.56],[2006.79,0.55],[2006.81,0.52],[2006.84,0.52],[2006.87,0.48],[2006.90,0.44],[2006.93,0.41],[2006.96,0.40],[2006.98,0.42],[2007.01,0.42],[2007.04,0.59],[2007.07,0.59],[2007.10,0.59],[2007.13,0.58],[2007.15,0.58],[2007.18,0.57],[2007.21,0.59],[2007.24,0.56],[2007.27,0.58],[2007.30,0.52],[2007.32,0.48],[2007.35,0.41],[2007.37,0.40],[2007.39,0.43],[2007.41,0.40],[2007.43,0.41],[2007.45,0.44],[2007.47,0.46],[2007.48,0.52],[2007.50,0.58],[2007.52,0.55],[2007.54,0.48],[2007.56,0.35],[2007.58,0.48],[2007.60,0.52],[2007.62,0.54],[2007.64,0.55],[2007.65,0.52],[2007.67,0.51],[2007.69,0.52],[2007.71,0.55],[2007.73,0.56],[2007.75,0.61],[2007.77,0.60],[2007.79,0.59],[2007.81,0.61],[2007.82,0.62],[2007.84,0.63],[2007.86,0.63],[2007.88,0.64],[2007.90,0.65],[2007.92,0.66],[2007.94,0.67],[2007.96,0.68],[2007.98,0.68],[2007.99,0.68],[2008.01,0.71],[2008.03,0.75],[2008.05,0.78],[2008.07,0.79],[2008.09,0.78],[2008.11,0.76],[2008.13,0.78],[2008.15,0.77],[2008.16,0.76],[2008.18,0.79],[2008.20,0.78],[2008.22,0.78],[2008.24,0.76],[2008.26,0.71],[2008.28,0.68],[2008.30,0.66],[2008.32,0.65],[2008.33,0.66],[2008.35,0.65],[2008.37,0.64],[2008.39,0.63],[2008.41,0.62],[2008.43,0.62],[2008.45,0.61],[2008.47,0.61],[2008.49,0.60],[2008.51,0.59],[2008.52,0.59],[2008.54,0.74],[2008.55,0.71],[2008.57,0.54],[2008.59,0.55],[2008.61,0.57],[2008.63,0.59],[2008.65,0.60],[2008.67,0.62],[2008.68,0.61],[2008.70,0.63],[2008.72,0.64],[2008.74,0.65],[2008.76,0.76],[2008.78,0.77],[2008.80,0.63],[2008.82,0.78],[2008.84,0.79],[2008.85,0.78],[2008.87,0.79],[2008.89,0.74],[2008.91,0.78],[2008.93,0.80],[2008.95,0.79],[2008.97,0.71],[2008.99,0.70],[2009.01,0.67],[2009.03,0.66],[2009.04,0.65],[2009.06,0.65],[2009.08,0.65],[2009.10,0.67],[2009.12,0.66],[2009.14,0.63],[2009.16,0.52],[2009.18,0.51],[2009.20,0.51],[2009.21,0.55],[2009.23,0.57],[2009.25,0.56],[2009.27,0.57],[2009.29,0.58],[2009.31,0.58],[2009.33,0.60],[2009.35,0.63],[2009.37,0.65],[2009.38,0.65],[2009.40,0.65],[2009.42,0.65],[2009.44,0.64],[2009.46,0.59],[2009.48,0.56],[2009.50,0.52],[2009.52,0.44],[2009.54,0.46],[2009.55,0.38],[2009.57,0.45],[2009.59,0.39],[2009.61,0.38],[2009.63,0.41],[2009.65,0.45],[2009.67,0.41],[2009.69,0.37],[2009.71,0.35],[2009.72,0.31],[2009.74,0.37],[2009.76,0.36],[2009.78,0.37],[2009.80,0.39],[2009.82,0.46],[2009.84,0.50],[2009.86,0.52],[2009.88,0.53],[2009.89,0.46],[2009.91,0.42],[2009.93,0.39],[2009.95,0.36],[2009.97,0.43],[2009.99,0.40],[2010.01,0.44],[2010.03,0.44],[2010.05,0.44],[2010.06,0.41],[2010.08,0.46],[2010.10,0.48],[2010.12,0.60],[2010.14,0.61],[2010.16,0.61],[2010.18,0.61],[2010.20,0.61],[2010.22,0.61],[2010.23,0.62],[2010.25,0.61],[2010.27,0.63],[2010.29,0.61],[2010.31,0.61],[2010.33,0.60],[2010.35,0.59],[2010.37,0.58],[2010.39,0.58]];

const sbi = [[2000.84,0.29],[2000.86,0.23],[2000.88,0.23],[2000.90,0.23],[2000.92,0.23],[2000.94,0.04],[2000.96,0.08],[2000.98,0.03],[2001.00,-0.18],[2001.02,-0.30],[2001.04,-0.24],[2001.06,-0.14],[2001.08,-0.02],[2001.10,0.09],[2001.12,0.13],[2001.14,0.03],[2001.16,0.12],[2001.18,0.33],[2001.20,0.32],[2001.22,0.28],[2001.24,0.26],[2001.26,0.31],[2001.28,0.26],[2001.30,0.28],[2001.32,0.27],[2001.34,0.28],[2001.36,0.27],[2001.38,0.28],[2001.40,0.21],[2001.42,0.32],[2001.44,0.33],[2001.46,0.29],[2001.48,0.28],[2001.50,0.23],[2001.52,0.19],[2001.54,0.22],[2001.56,0.13],[2001.58,0.11],[2001.60,0.22],[2001.62,0.08],[2001.64,0.01],[2001.66,-0.13],[2001.68,0.46],[2001.70,0.41],[2001.72,0.28],[2001.74,0.26],[2001.76,0.21],[2001.78,0.11],[2001.80,0.03],[2001.82,0.08],[2001.84,0.11],[2001.86,0.03],[2001.88,0.01],[2001.90,-0.01],[2001.92,-0.01],[2001.94,0.01],[2001.96,0.02],[2001.98,0.11],[2002.00,0.03],[2002.02,0.07],[2002.04,0.02],[2002.06,0.08],[2002.08,0.11],[2002.10,0.18],[2002.12,0.24],[2002.14,0.26],[2002.16,0.26],[2002.18,0.22],[2002.20,0.17],[2002.22,0.11],[2002.24,-0.02],[2002.26,-0.12],[2002.28,-0.17],[2002.30,-0.13],[2002.32,-0.08],[2002.34,-0.11],[2002.36,-0.06],[2002.38,0.01],[2002.40,0.02],[2002.42,0.11],[2002.44,0.03],[2002.46,-0.02],[2002.48,0.13],[2002.50,-0.02],[2002.52,0.09],[2002.54,0.43],[2002.56,0.41],[2002.58,0.32],[2002.60,0.33],[2002.62,0.13],[2002.64,-0.07],[2002.66,-0.19],[2002.68,-0.22],[2002.70,-0.17],[2002.72,-0.09],[2002.74,0.01],[2002.76,0.13],[2002.78,0.23],[2002.80,0.27],[2002.82,0.29],[2002.84,0.23],[2002.86,0.29],[2002.88,0.31],[2002.90,0.22],[2002.92,0.28],[2002.94,0.33],[2002.96,0.31],[2002.98,0.32],[2003.00,0.24],[2003.02,0.18],[2003.04,0.23],[2003.06,0.24],[2003.08,0.28],[2003.10,0.28],[2003.12,0.34],[2003.14,0.41],[2003.16,0.38],[2003.18,0.59],[2003.20,0.57],[2003.22,0.46],[2003.24,0.44],[2003.26,0.43],[2003.28,0.41],[2003.30,0.37],[2003.32,0.31],[2003.34,0.31],[2003.36,0.32],[2003.38,0.33],[2003.40,0.23],[2003.42,0.17],[2003.44,0.11],[2003.46,0.18],[2003.48,0.21],[2003.50,0.17],[2003.52,0.18],[2003.54,0.22],[2003.56,0.11],[2003.58,0.09],[2003.60,0.16],[2003.62,0.13],[2003.64,0.36],[2003.66,0.33],[2003.68,0.16],[2003.70,0.11],[2003.71,-0.02],[2003.73,-0.04],[2003.75,-0.14],[2003.77,-0.09],[2003.79,-0.04],[2003.81,0.03],[2003.83,0.06],[2003.85,0.01],[2003.87,0.04],[2003.89,0.13],[2003.91,0.14],[2003.93,0.16],[2003.95,0.17],[2003.97,0.18],[2003.99,0.17],[2004.01,0.21],[2004.03,0.31],[2004.05,0.23],[2004.07,0.16],[2004.09,0.01],[2004.11,0.16],[2004.13,0.04],[2004.15,-0.04],[2004.17,-0.07],[2004.19,-0.18],[2004.21,-0.12],[2004.23,-0.04],[2004.25,0.04],[2004.27,0.06],[2004.29,0.08],[2004.31,0.11],[2004.33,0.18],[2004.35,0.52],[2004.37,0.43],[2004.39,0.41],[2004.41,0.42],[2004.43,0.39],[2004.45,0.46],[2004.47,0.43],[2004.49,0.31],[2004.51,0.26],[2004.53,0.24],[2004.55,0.17],[2004.57,0.23],[2004.59,0.29],[2004.61,0.28],[2004.63,0.32],[2004.65,0.31],[2004.67,0.33],[2004.69,0.28],[2004.71,0.31],[2004.74,0.33],[2004.76,0.26],[2004.78,0.18],[2004.80,0.22],[2004.82,0.24],[2004.84,0.21],[2004.86,0.28],[2004.88,0.26],[2004.90,0.19],[2004.92,0.21],[2004.94,0.17],[2004.96,0.18],[2004.98,0.13],[2005.00,0.18],[2005.02,0.19],[2005.04,0.16],[2005.06,0.11],[2005.08,0.13],[2005.10,0.07],[2005.12,0.06],[2005.14,0.17],[2005.16,0.11],[2005.18,0.13],[2005.20,0.24],[2005.22,0.28],[2005.24,0.26],[2005.26,0.23],[2005.28,0.23],[2005.30,0.51],[2005.32,0.49],[2005.34,0.47],[2005.36,0.43],[2005.38,0.36],[2005.40,0.31],[2005.42,0.26],[2005.44,0.19],[2005.46,0.23],[2005.48,0.21],[2005.50,0.19],[2005.52,0.22],[2005.54,0.23],[2005.56,0.24],[2005.58,0.26],[2005.60,0.28],[2005.62,0.31],[2005.64,0.26],[2005.66,0.23],[2005.68,0.21],[2005.70,0.19],[2005.72,0.16],[2005.74,-0.30],[2005.76,-0.17],[2005.78,-0.12],[2005.80,-0.13],[2005.82,-0.12],[2005.84,-0.08],[2005.86,-0.02],[2005.88,0.02],[2005.90,-0.04],[2005.92,0.01],[2005.94,-0.02],[2005.96,0.03],[2005.98,-0.01],[2006.00,-0.02],[2006.02,0.01],[2006.04,0.03],[2006.06,0.01],[2006.08,-0.18],[2006.10,-0.07],[2006.12,-0.09],[2006.14,-0.06],[2006.16,-0.04],[2006.18,0.03],[2006.20,-0.04],[2006.22,-0.02],[2006.24,0.06],[2006.26,0.18],[2006.28,0.11],[2006.30,0.21],[2006.32,0.18],[2006.34,0.23],[2006.36,0.36],[2006.38,0.47],[2006.40,0.43],[2006.42,0.47],[2006.44,0.41],[2006.46,0.42],[2006.48,0.46],[2006.50,0.46],[2006.52,0.51],[2006.54,0.51],[2006.56,0.51],[2006.58,0.49],[2006.60,0.48],[2006.62,0.44],[2006.64,0.43],[2006.66,0.41],[2006.68,0.42],[2006.70,0.42],[2006.72,0.38],[2006.74,0.38],[2006.76,0.39],[2006.78,0.41],[2006.80,0.36],[2006.82,0.31],[2006.84,0.29],[2006.86,0.26],[2006.88,0.32],[2006.90,0.29],[2006.92,0.36],[2006.94,0.38],[2006.96,0.34],[2006.98,0.38],[2007.00,0.21],[2007.02,0.09],[2007.04,0.13],[2007.06,0.18],[2007.08,0.16],[2007.10,0.18],[2007.12,0.19],[2007.14,0.23],[2007.16,0.21],[2007.18,0.19],[2007.20,0.28],[2007.22,0.36],[2007.24,0.53],[2007.26,0.62],[2007.28,0.61],[2007.30,0.58],[2007.32,0.57],[2007.34,0.52],[2007.36,0.48],[2007.38,0.46],[2007.40,0.43],[2007.42,0.34],[2007.43,0.31],[2007.45,0.26],[2007.47,0.08],[2007.49,0.26],[2007.51,0.38],[2007.53,0.34],[2007.55,0.26],[2007.57,0.21],[2007.59,0.18],[2007.61,0.22],[2007.63,0.21],[2007.65,0.18],[2007.67,0.16],[2007.69,0.13],[2007.71,0.03],[2007.73,0.04],[2007.75,0.08],[2007.77,0.06],[2007.79,0.08],[2007.81,0.07],[2007.83,0.03],[2007.85,-0.02],[2007.87,0.08],[2007.89,0.18],[2007.91,0.23],[2007.93,0.22],[2007.95,0.31],[2007.97,0.28],[2007.99,0.29],[2008.01,0.38],[2008.03,0.51],[2008.05,0.69],[2008.07,0.69],[2008.09,0.66],[2008.11,0.58],[2008.13,0.58],[2008.15,0.56],[2008.17,0.59],[2008.19,0.56],[2008.21,0.43],[2008.23,0.36],[2008.25,0.31],[2008.27,0.33],[2008.29,0.37],[2008.31,0.36],[2008.33,0.33],[2008.35,0.36],[2008.37,0.32],[2008.39,0.33],[2008.41,0.36],[2008.43,0.37],[2008.45,0.29],[2008.47,0.32],[2008.49,0.36],[2008.51,0.37],[2008.53,0.43],[2008.55,0.36],[2008.57,0.39],[2008.59,0.41],[2008.61,0.38],[2008.63,0.43],[2008.65,0.41],[2008.67,0.38],[2008.69,0.41],[2008.71,0.72],[2008.73,0.73],[2008.75,0.81],[2008.77,0.89],[2008.79,0.86],[2008.81,0.69],[2008.83,0.49],[2008.85,0.54],[2008.87,0.63],[2008.89,0.61],[2008.91,0.53],[2008.93,0.51],[2008.95,0.52],[2008.97,0.49],[2008.99,0.52],[2009.01,0.53],[2009.03,0.46],[2009.05,0.38],[2009.07,0.26],[2009.09,0.24],[2009.11,0.27],[2009.13,0.33],[2009.15,0.36],[2009.17,0.31],[2009.19,0.31],[2009.21,0.28],[2009.23,0.29],[2009.25,0.24],[2009.27,0.24],[2009.29,0.23],[2009.31,0.19],[2009.33,0.16],[2009.35,0.13],[2009.37,0.23],[2009.39,0.33],[2009.41,0.31],[2009.43,0.26],[2009.45,0.21],[2009.47,0.18],[2009.49,0.22],[2009.51,0.41],[2009.53,0.38],[2009.55,0.36],[2009.57,0.33],[2009.59,0.37],[2009.61,0.34],[2009.63,0.32],[2009.65,0.33],[2009.67,0.29],[2009.69,0.26],[2009.71,0.33],[2009.73,0.27],[2009.75,0.29],[2009.77,0.36],[2009.79,0.28],[2009.81,0.42],[2009.83,0.58],[2009.85,0.53],[2009.87,0.47],[2009.89,0.39],[2009.91,0.46],[2009.93,0.47],[2009.95,0.38],[2009.97,0.18],[2009.99,0.14],[2010.01,0.19],[2010.03,0.26],[2010.05,0.27],[2010.07,0.26],[2010.09,0.24],[2010.11,0.22],[2010.13,0.18],[2010.15,0.11],[2010.17,0.01],[2010.19,-0.17],[2010.20,-0.23],[2010.22,-0.12],[2010.25,-0.08],[2010.28,-0.07]];

const TS = '\u2009';
const spaced = (a, b) => a.split('').join(TS) + ' & ' + b.split('').join(TS);
const panels = [
  {name:'DAX30 & BSE', data:bse, ymin:-0.4, ymax:1.0, step:0.2, xmin:2000.85, xmax:2010.39, minor:3, box:[35,22,315,191], lg:[126,7], fs:12.5, dot:false},
  {name:'DAX30 & CROBEX', data:crobex, ymin:-0.2, ymax:1.0, step:0.2, xmin:2000.83, xmax:2010.40, minor:3, box:[416,23,335,190], lg:[499,7], fs:12.5, dot:false},
  {name:spaced('DAX30','BET'), data:bet, ymin:-0.6, ymax:1.0, step:0.2, xmin:2000.83, xmax:2010.40, minor:4, box:[815,23,318,188], lg:[909,7], fs:11, dot:false},
  {name:spaced('DAX30','ATHEX'), data:athex, ymin:0, ymax:0.9, step:0.1, xmin:2000.83, xmax:2010.40, minor:3, box:[29,264,319,190], lg:[114,249], fs:11, dot:true},
  {name:spaced('DAX30','ISE'), data:ise, ymin:-0.2, ymax:1.0, step:0.2, xmin:2000.83, xmax:2010.40, minor:3, box:[414,265,338,189], lg:[512,249], fs:11, dot:false},
  {name:'DAX30 & SBI', data:sbi, ymin:-0.4, ymax:1.0, step:0.2, xmin:2000.84, xmax:2010.40, minor:4, box:[821,264,319,187], lg:[912,249], fs:12.5, dot:false}
];

const FONT = 'DejaVu Sans';
const grid = [], xAxis = [], yAxis = [], series = [], legend = [];
panels.forEach((p, i) => {
  grid.push({left:p.box[0], top:p.box[1], width:p.box[2], height:p.box[3], show:true, borderColor:'#7a7a7a', borderWidth:1.5, containLabel:false, outerBoundsMode:'none'});
  const minorVals = [];
  for (let y = 2000; y <= 2011; y++) for (let k = 1; k < p.minor; k++) { const v = y + k / p.minor; if (v > p.xmin && v < p.xmax) minorVals.push(v); }
  const labelVals = yearTicks.slice(0, 9).map(y => y + 0.5);
  xAxis.push({type:'value', gridIndex:i, position:'bottom', min:p.xmin, max:p.xmax,
    axisLine:{show:true, onZero:false, lineStyle:{color:'#000', width:1}},
    axisTick:{show:true, customValues:yearTicks, length:6, lineStyle:{color:'#000', width:1}},
    axisLabel:{show:true, customValues:labelVals, formatter:v => tickLabels[Math.round(v - 2001.5)], fontSize:11, fontFamily:FONT, color:'#111', margin:6},
    splitLine:{show:false}});
  xAxis.push({type:'value', gridIndex:i, position:'bottom', offset:0, min:p.xmin, max:p.xmax,
    axisLine:{show:false, onZero:false},
    axisTick:{show:true, customValues:minorVals, length:3, lineStyle:{color:'#000', width:1}},
    axisLabel:{show:false}, splitLine:{show:false}});
  yAxis.push({type:'value', gridIndex:i, min:p.ymin, max:p.ymax, interval:p.step,
    axisLine:{show:true, onZero:false, lineStyle:{color:'#000', width:1}},
    axisTick:{show:true, length:5, lineStyle:{color:'#000', width:1}},
    axisLabel:{fontSize:12, fontFamily:FONT, color:'#111', margin:6,
      formatter:v => { const s = (Math.round(v * 10) / 10).toFixed(1); return p.dot ? s.replace(/^0/, '') : s; }},
    splitLine:{show:false}});
  series.push({name:p.name, type:'line', xAxisIndex:2 * i, yAxisIndex:i, data:p.data, symbol:'none', showSymbol:false,
    lineStyle:{color:'#0000ff', width:1}, itemStyle:{color:'#0000ff'}, clip:true, animation:false});
  legend.push({data:[p.name], left:p.lg[0], top:p.lg[1], padding:0, icon:'rect', itemWidth:22, itemHeight:1.5,
    selectedMode:false, textStyle:{fontSize:p.fs, fontFamily:FONT, color:'#222'}});
});

const chart = echarts.init(document.getElementById('c'), null, {renderer:'canvas'});
chart.setOption({backgroundColor:'#fff', animation:false, grid, xAxis, yAxis, series, legend});
</script>
</body></html>
